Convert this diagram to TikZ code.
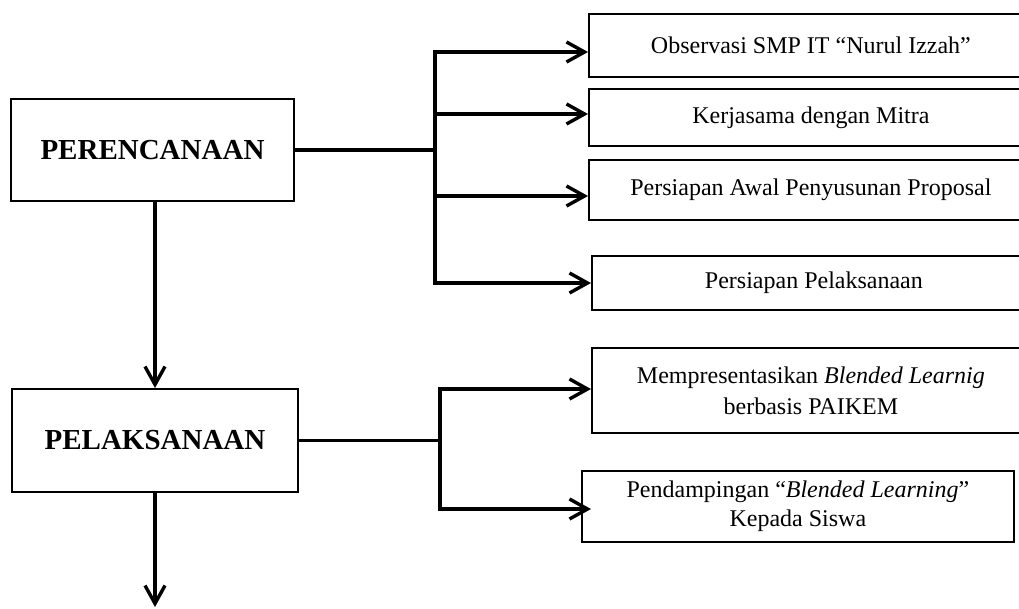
\documentclass[tikz,border=0pt]{standalone}
\usepackage{fontspec}
\setmainfont{Liberation Serif}
\usetikzlibrary{arrows.meta, calc}
\tikzset{
  mainbox/.style   = {draw, line width=2pt, minimum width=283pt, minimum height=102pt,
                      inner sep=0pt, font=\fontsize{29}{34}\selectfont\bfseries},
  subbox/.style    = {draw, line width=1.8pt, anchor=west, minimum width=444pt,
                      inner sep=0pt, align=center, font=\fontsize{24}{31}\selectfont},
  flow/.style      = {line width=3.4pt, line cap=rect},                 % trunk lines
  flowarrow/.style = {line width=3.4pt, -{Straight Barb[length=18pt,width=20pt]}},
}
\newcommand{\branch}[2]{\draw[flowarrow] (#1) -- (#1 -| #2.west);}

\begin{document}
\begin{tikzpicture}[x=1pt, y=-1pt]
  \useasboundingbox (0,0) rectangle (1019,608);
  % main stages
  \node[mainbox] (plan) at (152.5,150) {PERENCANAAN};
  \node[mainbox, minimum width=286pt, minimum height=103pt] (exec) at (155,440.5) {PELAKSANAAN};
  % planning steps
  \node[subbox, minimum height=63pt] (obs)   at (588,45.5)  {Observasi SMP IT “Nurul Izzah”};
  \node[subbox, minimum height=57pt] (mitra) at (588,117.5) {Kerjasama dengan Mitra};
  \node[subbox, minimum height=60pt] (prop)  at (588,190)   {Persiapan Awal Penyusunan Proposal};
  \node[subbox, minimum height=54pt] (prep)  at (591,283)   {Persiapan Pelaksanaan};
  % execution steps
  \node[subbox, minimum height=85pt, minimum width=438pt] (pres) at (591,390.5)
    {Mempresentasikan \textit{Blended Learnig}\\berbasis PAIKEM};
  \node[subbox, minimum height=71pt, minimum width=432pt] (pend) at (581,506.5)
    {Pendampingan “\textit{Blended Learning}”\\[-2pt]Kepada Siswa};
  % trunk of the planning steps
  \coordinate (p1) at (435,52);
  \coordinate (p2) at (435,114);
  \coordinate (p3) at (435,196);
  \coordinate (p4) at (435,283);
  \draw[flow] (plan.east) -- (plan.east -| p1);
  \draw[flow] (p1) -- (p4);
  \branch{p1}{obs}
  \branch{p2}{mitra}
  \branch{p3}{prop}
  \branch{p4}{prep}
  % trunk of the execution steps
  \coordinate (q1) at (440,389);
  \coordinate (q2) at (440,509);
  \draw[flow] (exec.east) -- (exec.east -| q1);
  \draw[flow] (q1) -- (q2);
  \branch{q1}{pres}
  \branch{q2}{pres}
  % down the stages
  \coordinate (next) at (155,607);
  \draw[flowarrow] (exec.north |- plan.south) -- (exec.north);
  \draw[flowarrow] (exec.south) -- (next);
\end{tikzpicture}
\end{document}
